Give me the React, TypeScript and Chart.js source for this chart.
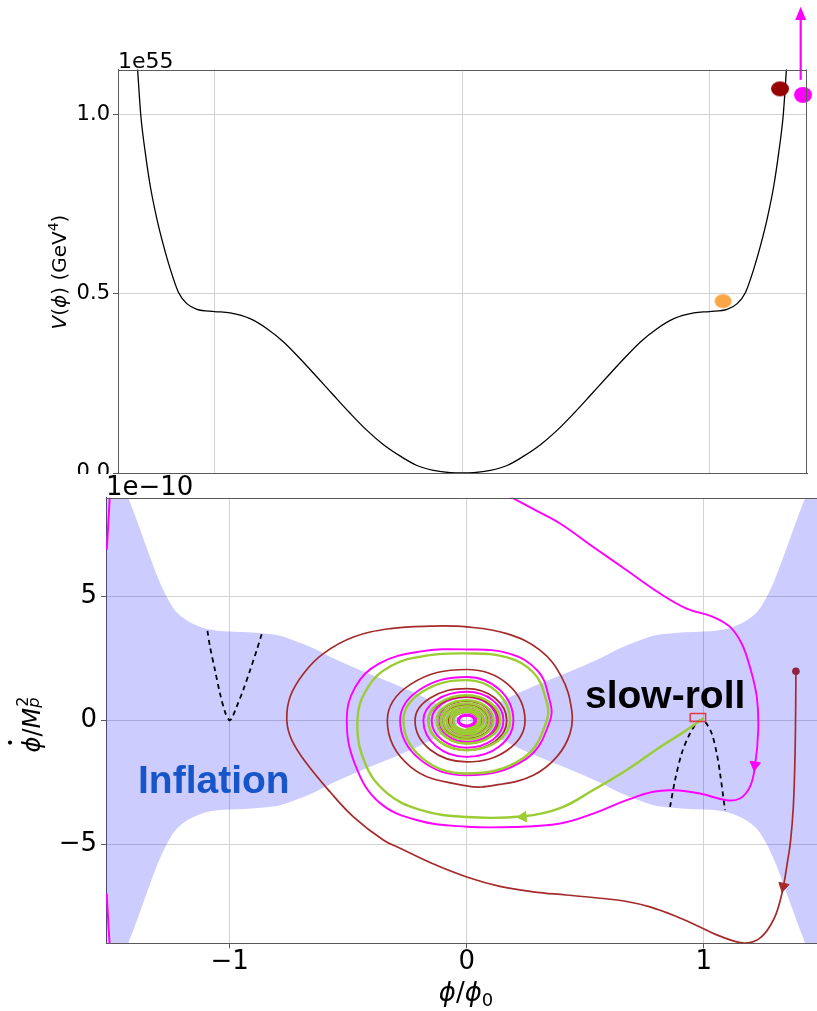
import React, { useEffect, useRef } from "react";
import { Chart, registerables } from "chart.js";

Chart.register(...registerables);

const FONT = "'DejaVu Sans', sans-serif";
const BOLD = "'Liberation Sans', Arial, sans-serif";
const GRID = "#d2d2d2";
const SPINE = "#5a5a5a";

// ---------------- Top panel: potential V(phi) in units of 1e55 GeV^4 ----------------
const topXGrid = [-1, 0, 1];
const topYTicks = [0, 0.5, 1.0];
const potPhi = [-1.325, -1.311, -1.298, -1.28, -1.26, -1.233, -1.206, -1.179, -1.146, -1.112, -1.071, -1.0, -0.937, -0.856, -0.788, -0.721, -0.654, -0.586, -0.519, -0.451, -0.384, -0.317, -0.249, -0.182, -0.115, -0.047, 0, 0.047, 0.115, 0.182, 0.249, 0.317, 0.384, 0.451, 0.519, 0.586, 0.654, 0.721, 0.788, 0.856, 0.937, 1.0, 1.071, 1.112, 1.146, 1.179, 1.206, 1.233, 1.26, 1.28, 1.298, 1.311, 1.325];
const potV = [1.26, 1.128, 1.0, 0.896, 0.803, 0.71, 0.635, 0.57, 0.505, 0.473, 0.457, 0.451, 0.447, 0.431, 0.403, 0.366, 0.319, 0.268, 0.217, 0.166, 0.119, 0.079, 0.047, 0.021, 0.0074, 0.001, 0, 0.001, 0.0074, 0.021, 0.047, 0.079, 0.119, 0.166, 0.217, 0.268, 0.319, 0.366, 0.403, 0.431, 0.447, 0.451, 0.457, 0.473, 0.505, 0.57, 0.635, 0.71, 0.803, 0.896, 1.0, 1.128, 1.26];
const darkRedPt = [1.285, 1.073];
const magentaPt = [1.378, 1.056];
const orangePt = [1.055, 0.48];
const kickPhi = 1.3685;
const kickV = [1.098, 1.265];
const kickTip = 1.3025;

// ---------------- Bottom panel: phase space (phi/phi0, phidot/Mp^2 in 1e-10) ----------------
const botXTicks = [-1, 0, 1];
const botYTicks = [-5, 0, 5];
const bandPhi = [-1.56, -1.47, -1.428, -1.4, -1.37, -1.336, -1.3, -1.266, -1.231, -1.19, -1.153, -1.104, -1.05, -1.0, -0.92, -0.844, -0.788, -0.72, -0.647, -0.55, -0.436, -0.3, -0.183, -0.09, 0, 0.09, 0.183, 0.3, 0.436, 0.55, 0.647, 0.72, 0.788, 0.844, 0.92, 1.0, 1.05, 1.104, 1.153, 1.19, 1.231, 1.266, 1.3, 1.336, 1.37, 1.4, 1.428, 1.47, 1.56];
const bandUpper = [14.0, 10.3, 9.0, 8.3, 7.5, 6.6, 5.7, 5.0, 4.45, 4.1, 3.9, 3.72, 3.63, 3.6, 3.56, 3.5, 3.42, 3.2, 2.92, 2.45, 1.98, 1.45, 0.95, 0.47, 0, 0.47, 0.95, 1.45, 1.98, 2.45, 2.92, 3.2, 3.42, 3.5, 3.56, 3.6, 3.63, 3.72, 3.9, 4.1, 4.45, 5.0, 5.7, 6.6, 7.5, 8.3, 9.0, 10.3, 14.0];
const bandLower = [-14.0, -10.3, -9.0, -8.3, -7.5, -6.6, -5.7, -5.0, -4.45, -4.1, -3.9, -3.72, -3.63, -3.6, -3.56, -3.5, -3.42, -3.2, -2.92, -2.45, -1.98, -1.45, -0.95, -0.47, 0, -0.47, -0.95, -1.45, -1.98, -2.45, -2.92, -3.2, -3.42, -3.5, -3.56, -3.6, -3.63, -3.72, -3.9, -4.1, -4.45, -5.0, -5.7, -6.6, -7.5, -8.3, -9.0, -10.3, -14.0];

const dashLeftPhi = [-1.094, -1.083, -1.062, -1.041, -1.02, -1.002, -0.992, -0.971, -0.943, -0.914, -0.886, -0.865];
const dashLeftV = [3.62, 2.97, 2.03, 1.09, 0.35, 0.01, 0.08, 0.55, 1.23, 2.03, 2.84, 3.49];
const dashRightPhi = [0.858, 0.879, 0.907, 0.935, 0.963, 0.984, 1.006, 1.034, 1.055, 1.069, 1.09];
const dashRightV = [-3.49, -2.41, -1.33, -0.66, -0.19, 0.01, -0.06, -0.53, -1.33, -2.14, -3.62];

const boxPhi = [0.943, 1.008, 1.008, 0.943, 0.943];
const boxV = [0.28, 0.28, -0.04, -0.04, 0.28];

const brownStart = [1.389, 1.99];
const brownPhi = [1.389, 1.388, 1.385, 1.378, 1.366, 1.352, 1.336, 1.322, 1.305, 1.283, 1.258, 1.23, 1.2, 1.17, 1.124, 1.05, 0.984, 0.88, 0.773, 0.67, 0.562, 0.42, 0.28, 0.14, 0.0, -0.14, -0.281, -0.352, -0.478, -0.577, -0.675, -0.738, -0.759, -0.745, -0.689, -0.605, -0.478, -0.323, -0.155, 0.0, 0.169, 0.309, 0.4, 0.443, 0.436, 0.38, 0.281, 0.141, 0.0, -0.237, -0.335, -0.237, 0.0, 0.174, 0.246, 0.174, 0.0, -0.154, -0.218, -0.154, 0.0, 0.119, 0.169, 0.119, 0.0, -0.115, -0.162, -0.115, 0.0, 0.095, 0.134, 0.095, 0.0, -0.088, -0.125, -0.088, 0.0, 0.078, 0.11, 0.078, 0.0, -0.071, -0.1, -0.071, 0.0, 0.062, 0.088, 0.062, 0.0, -0.055, -0.078, -0.055, 0.0, 0.047, 0.066, 0.047, 0.0, -0.041, -0.058, -0.041, 0.0, 0.035, 0.05, 0.035, 0.0];
const brownV = [1.99, 0.5, -1.5, -3.5, -4.9, -5.8, -6.72, -7.3, -7.82, -8.25, -8.6, -8.84, -8.96, -8.99, -8.9, -8.64, -8.34, -7.9, -7.53, -7.3, -7.18, -7.05, -6.92, -6.7, -6.32, -5.8, -5.16, -4.83, -3.89, -2.88, -1.74, -0.79, 0.0, 0.96, 1.89, 2.7, 3.37, 3.71, 3.81, 3.78, 3.51, 2.84, 1.76, 0.42, -0.52, -1.47, -2.21, -2.58, -2.64, -1.87, 0.0, 1.46, 2.06, 1.46, 0.0, -1.18, -1.67, -1.18, 0.0, 0.91, 1.29, 0.91, 0.0, -0.85, -1.2, -0.85, 0.0, 0.68, 0.96, 0.68, 0.0, -0.66, -0.93, -0.66, 0.0, 0.55, 0.78, 0.55, 0.0, -0.51, -0.72, -0.51, 0.0, 0.44, 0.62, 0.44, 0.0, -0.4, -0.57, -0.4, 0.0, 0.34, 0.48, 0.34, 0.0, -0.3, -0.43, -0.3, 0.0, 0.25, 0.36, 0.25, 0.0, -0.23, -0.32];

const greenPhi = [1.0, 0.955, 0.91, 0.816, 0.675, 0.534, 0.394, 0.239, 0.0, -0.2, -0.34, -0.43, -0.461, -0.42, -0.32, -0.17, 0.0, 0.17, 0.28, 0.33, 0.338, 0.239, 0.0, -0.189, -0.267, -0.189, 0.0, 0.129, 0.183, 0.129, 0.0, -0.115, -0.162, -0.115, 0.0, 0.1, 0.141, 0.1, 0.0, -0.09, -0.127, -0.09, 0.0, 0.08, 0.113, 0.08, 0.0, -0.078, -0.11, -0.078, 0.0, 0.068, 0.096, 0.068, 0.0, -0.069, -0.098, -0.069, 0.0, 0.059, 0.084, 0.059, 0.0, -0.059, -0.084, -0.059, 0.0, 0.049, 0.07, 0.049, 0.0, -0.049, -0.07, -0.049, 0.0, 0.04, 0.056, 0.04, 0.0, -0.04, -0.056, -0.04, 0.0, 0.035, 0.049, 0.035, 0.0];
const greenV = [0.1, -0.2, -0.5, -1.07, -2.0, -2.81, -3.54, -3.87, -3.9, -3.6, -2.9, -1.7, 0.0, 1.3, 2.2, 2.62, 2.71, 2.55, 1.95, 1.0, 0.0, -1.51, -2.14, -1.51, 0.0, 1.15, 1.63, 1.15, 0.0, -0.85, -1.2, -0.85, 0.0, 0.72, 1.02, 0.72, 0.0, -0.66, -0.93, -0.66, 0.0, 0.58, 0.82, 0.58, 0.0, -0.54, -0.77, -0.54, 0.0, 0.49, 0.69, 0.49, 0.0, -0.47, -0.66, -0.47, 0.0, 0.41, 0.58, 0.41, 0.0, -0.39, -0.55, -0.39, 0.0, 0.34, 0.48, 0.34, 0.0, -0.33, -0.46, -0.33, 0.0, 0.3, 0.42, 0.3, 0.0, -0.28, -0.39, -0.28, 0.0, 0.25, 0.35, 0.25, 0.0, -0.23, -0.32];

const magentaPhi = [0.1, 0.191, 0.29, 0.394, 0.534, 0.675, 0.816, 0.928, 1.041, 1.111, 1.16, 1.195, 1.224, 1.23, 1.216, 1.195, 1.153, 1.097, 0.984, 0.872, 0.787, 0.675, 0.534, 0.394, 0.2, 0.0, -0.2, -0.37, -0.47, -0.506, -0.47, -0.37, -0.2, 0.0, 0.18, 0.3, 0.345, 0.352, 0.249, 0.0, -0.199, -0.281, -0.199, 0.0, 0.139, 0.197, 0.139, 0.0, -0.129, -0.183, -0.129, 0.0, 0.11, 0.155, 0.11, 0.0, -0.105, -0.148, -0.105, 0.0, 0.09, 0.127, 0.09, 0.0, -0.081, -0.115, -0.081, 0.0, 0.071, 0.1, 0.071, 0.0, -0.06, -0.085, -0.06, 0.0, 0.051, 0.072, 0.051, 0.0, -0.041, -0.058, -0.041, 0.0, 0.032, 0.045, 0.032, 0.0, -0.026, -0.037, -0.026, 0.0];
const magentaV = [9.45, 9.0, 8.5, 7.96, 7.01, 6.07, 5.13, 4.52, 4.18, 3.78, 3.11, 2.16, 0.95, -0.39, -1.87, -2.68, -3.15, -3.22, -2.95, -2.82, -2.88, -3.22, -3.76, -4.16, -4.3, -4.29, -4.05, -3.3, -1.8, 0.0, 1.35, 2.3, 2.78, 2.87, 2.7, 2.0, 1.0, 0.0, -1.56, -2.21, -1.56, 0.0, 1.24, 1.76, 1.24, 0.0, -1.04, -1.47, -1.04, 0.0, 0.82, 1.16, 0.82, 0.0, -0.78, -1.1, -0.78, 0.0, 0.67, 0.95, 0.67, 0.0, -0.61, -0.86, -0.61, 0.0, 0.48, 0.68, 0.48, 0.0, -0.42, -0.6, -0.42, 0.0, 0.35, 0.5, 0.35, 0.0, -0.28, -0.4, -0.28, 0.0, 0.23, 0.33, 0.23, 0.0, -0.18, -0.26, -0.18, 0.0, 0.16, 0.22];
const magCorePhi = [0.0, 0.025, 0.035, 0.025, 0.0, -0.025, -0.035, -0.025, 0.0];
const magCoreV = [0.22, 0.155, 0.0, -0.155, -0.22, -0.155, 0.0, 0.155, 0.22];
const magEdgePhi = [-1.503, -1.512, -1.519, -1.52, -1.519, -1.512, -1.503];
const magEdgeV = [9.6, 8.0, 6.9, null, -6.99, -8.2, -9.6];

const arrowPhi = [0.238, 1.216, 1.336];
const arrowV = [-3.89, -1.8, -6.7];
const arrowRot = [265, 188, 192];
const arrowColors = ["#9acd32", "#ff00ff", "#a52a2a"];

function pts(xs: number[], ys: (number | null)[]) {
  return xs.map((x, i) => ({ x, y: ys[i] }));
}

function ellipseImage(color: string, w: number, h: number) {
  const c = document.createElement("canvas");
  c.width = w + 2;
  c.height = h + 2;
  const g = c.getContext("2d")!;
  g.fillStyle = color;
  g.beginPath();
  g.ellipse((w + 2) / 2, (h + 2) / 2, w / 2, h / 2, 0, 0, Math.PI * 2);
  g.fill();
  return c;
}

const minusFmt = (v: any) => {
  const n = Number(v);
  return n < 0 ? "\u2212" + Math.abs(n) : String(n);
};

export default function App() {
  const topRef = useRef<HTMLCanvasElement>(null);
  const botRef = useRef<HTMLCanvasElement>(null);

  useEffect(() => {
    const charts: Chart[] = [];

    // ---------- TOP ----------
    const topPlugin = {
      id: "topDecor",
      afterDatasetsDraw(chart: any) {
        const ctx = chart.ctx;
        const xs = chart.scales.x;
        const ys = chart.scales.y;
        const px = xs.getPixelForValue(kickPhi);
        const tip = ys.getPixelForValue(kickTip);
        const base = ys.getPixelForValue(kickV[1]);
        ctx.save();
        ctx.fillStyle = "#ff00ff";
        ctx.beginPath();
        ctx.moveTo(px, tip);
        ctx.lineTo(px - 5.5, base);
        ctx.lineTo(px + 5.5, base);
        ctx.closePath();
        ctx.fill();
        ctx.restore();
      },
      afterDraw(chart: any) {
        const ctx = chart.ctx;
        const a = chart.chartArea;
        ctx.save();
        ctx.strokeStyle = SPINE;
        ctx.lineWidth = 1;
        ctx.beginPath();
        ctx.moveTo(a.left, Math.round(a.top) + 0.5);
        ctx.lineTo(a.right, Math.round(a.top) + 0.5);
        ctx.moveTo(Math.round(a.right) - 0.5, a.top);
        ctx.lineTo(Math.round(a.right) - 0.5, a.bottom);
        ctx.stroke();
        ctx.fillStyle = "#000";
        ctx.font = `22px ${FONT}`;
        ctx.textAlign = "left";
        ctx.textBaseline = "alphabetic";
        ctx.fillText("1e55", 118, 68);
        ctx.translate(0, 272);
        ctx.rotate(-Math.PI / 2);
        const runs: [string, string, number][] = [
          ["V", `italic 20px ${FONT}`, 0],
          ["(", `20px ${FONT}`, 0],
          ["\u03D5", `italic 20px ${FONT}`, 0],
          [") (GeV", `20px ${FONT}`, 0],
          ["4", `14px ${FONT}`, -8],
          [")", `20px ${FONT}`, 0],
        ];
        let total = 0;
        for (const r of runs) {
          ctx.font = r[1];
          total += ctx.measureText(r[0]).width;
        }
        let x = -total / 2;
        for (const r of runs) {
          ctx.font = r[1];
          ctx.fillText(r[0], x, 66 + r[2]);
          x += ctx.measureText(r[0]).width;
        }
        ctx.restore();
      },
    };

    const top = new Chart(topRef.current!, {
      type: "line",
      data: {
        datasets: [
          {
            data: pts([darkRedPt[0]], [darkRedPt[1]]),
            showLine: false,
            pointStyle: ellipseImage("#960000", 18, 15),
            pointRadius: 9,
            clip: false,
          } as any,
          {
            data: pts([magentaPt[0]], [magentaPt[1]]),
            showLine: false,
            pointStyle: ellipseImage("#ff00ff", 18, 16),
            pointRadius: 9,
            clip: false,
          },
          {
            data: pts([orangePt[0]], [orangePt[1]]),
            showLine: false,
            pointStyle: ellipseImage("#fba646", 17, 14),
            pointRadius: 9,
            clip: false,
          },
          {
            data: pts([kickPhi, kickPhi], [kickV[0], kickV[1]]),
            borderColor: "#ff00ff",
            borderWidth: 2.2,
            pointRadius: 0,
            clip: false,
          },
          {
            data: pts(potPhi, potV),
            borderColor: "#000",
            borderWidth: 1.3,
            pointRadius: 0,
            cubicInterpolationMode: "monotone",
          },
        ],
      },
      options: {
        responsive: false,
        animation: false,
        events: [],
        layout: { autoPadding: false, padding: { left: 0, right: 10, top: 69.5, bottom: 0 } },
        plugins: { legend: { display: false }, tooltip: { enabled: false } },
        scales: {
          x: {
            type: "linear",
            min: -1.39,
            max: 1.394,
            afterBuildTicks: (s: any) => {
              s.ticks = topXGrid.map((v) => ({ value: v }));
            },
            afterFit: (s: any) => {
              s.height = 27;
            },
            ticks: { display: false },
            grid: { color: GRID, drawTicks: false },
            border: { color: SPINE },
          },
          y: {
            type: "linear",
            min: 0,
            max: 1.127,
            afterBuildTicks: (s: any) => {
              s.ticks = topYTicks.map((v) => ({ value: v }));
            },
            afterFit: (s: any) => {
              s.width = 118;
            },
            ticks: {
              color: "#000",
              font: { family: FONT, size: 21 },
              padding: 3,
              callback: (v: any) => Number(v).toFixed(1),
            },
            grid: { color: GRID, tickColor: SPINE, tickLength: 5 },
            border: { color: SPINE },
          },
        },
      } as any,
      plugins: [topPlugin],
    });
    charts.push(top);

    // ---------- BOTTOM ----------
    const botPlugin = {
      id: "botDecor",
      afterDraw(chart: any) {
        const ctx = chart.ctx;
        const a = chart.chartArea;
        ctx.save();
        ctx.strokeStyle = SPINE;
        ctx.lineWidth = 1;
        ctx.beginPath();
        ctx.moveTo(a.left, Math.round(a.top) + 0.5);
        ctx.lineTo(a.right, Math.round(a.top) + 0.5);
        ctx.stroke();

        ctx.textAlign = "left";
        ctx.textBaseline = "alphabetic";
        ctx.fillStyle = "#000";
        ctx.font = `26px ${FONT}`;
        ctx.fillText("1e\u221210", 106, 21);

        ctx.font = `bold 39px ${BOLD}`;
        ctx.fillStyle = "#1755c8";
        ctx.fillText("Inflation", 138, 319);
        ctx.fillStyle = "#000";
        ctx.fillText("slow-roll", 585, 234);

        const xr: [string, string, number][] = [
          ["\u03D5", `italic 26px ${FONT}`, 0],
          ["/", `26px ${FONT}`, 0],
          ["\u03D5", `italic 26px ${FONT}`, 0],
          ["0", `18px ${FONT}`, 5],
        ];
        let tw = 0;
        for (const r of xr) {
          ctx.font = r[1];
          tw += ctx.measureText(r[0]).width;
        }
        let x = 466 - tw / 2;
        for (const r of xr) {
          ctx.font = r[1];
          ctx.fillText(r[0], x, 527 + r[2]);
          x += ctx.measureText(r[0]).width;
        }

        ctx.translate(0, 251);
        ctx.rotate(-Math.PI / 2);
        const base = 40;
        ctx.font = `italic 24px ${FONT}`;
        const wPhi = ctx.measureText("\u03D5").width;
        ctx.font = `24px ${FONT}`;
        const wSl = ctx.measureText("/").width;
        ctx.font = `italic 24px ${FONT}`;
        const wM = ctx.measureText("M").width;
        ctx.font = `16px ${FONT}`;
        const w2 = ctx.measureText("2").width;
        ctx.font = `italic 16px ${FONT}`;
        const wp = ctx.measureText("p").width;
        const tot = wPhi + wSl + wM + Math.max(w2, wp);
        let lx = -tot / 2;
        ctx.font = `italic 24px ${FONT}`;
        ctx.fillText("\u03D5", lx, base);
        ctx.beginPath();
        ctx.arc(lx + wPhi * 0.62, 10, 2.1, 0, Math.PI * 2);
        ctx.fill();
        lx += wPhi;
        ctx.font = `24px ${FONT}`;
        ctx.fillText("/", lx, base);
        lx += wSl;
        ctx.font = `italic 24px ${FONT}`;
        ctx.fillText("M", lx, base);
        lx += wM;
        ctx.font = `16px ${FONT}`;
        ctx.fillText("2", lx + 1, base - 12);
        ctx.font = `italic 16px ${FONT}`;
        ctx.fillText("p", lx, base - 1);
        ctx.restore();
      },
    };

    const line = (xs: number[], ys: (number | null)[], color: string, width: number, extra: any = {}) => ({
      data: pts(xs, ys),
      borderColor: color,
      backgroundColor: color,
      borderWidth: width,
      pointRadius: 0,
      tension: 0.4,
      fill: false,
      ...extra,
    });

    const bot = new Chart(botRef.current!, {
      type: "line",
      data: {
        datasets: [
          {
            data: pts(arrowPhi, arrowV),
            showLine: false,
            pointStyle: "triangle",
            pointRadius: 6,
            pointRotation: arrowRot,
            pointBackgroundColor: arrowColors,
            pointBorderColor: arrowColors,
            pointBorderWidth: 1,
          } as any,
          {
            data: pts([brownStart[0]], [brownStart[1]]),
            showLine: false,
            pointRadius: 3.8,
            pointBackgroundColor: "#8e2440",
            pointBorderColor: "#8e2440",
            pointBorderWidth: 0,
          },
          line(boxPhi, boxV, "#e8383a", 1.5, { tension: 0 }),
          line(magCorePhi, magCoreV, "#ff00ff", 3, { tension: 0.5 }),
          line(greenPhi, greenV, "#9acd32", 2.4),
          line(brownPhi, brownV, "#a52a2a", 1.7),
          line(magentaPhi, magentaV, "#ff00ff", 1.9),
          line(magEdgePhi, magEdgeV, "#ff00ff", 2, { tension: 0.2 }),
          line(dashLeftPhi, dashLeftV, "#000", 1.8, { borderDash: [5, 4], tension: 0.3 }),
          line(dashRightPhi, dashRightV, "#000", 1.8, { borderDash: [5, 4], tension: 0.3 }),
          {
            data: pts(bandPhi, bandUpper),
            borderWidth: 0,
            borderColor: "rgba(0,0,0,0)",
            backgroundColor: "rgba(0,0,255,0.2)",
            pointRadius: 0,
            cubicInterpolationMode: "monotone",
            fill: "+1",
          },
          {
            data: pts(bandPhi, bandLower),
            borderWidth: 0,
            borderColor: "rgba(0,0,0,0)",
            pointRadius: 0,
            cubicInterpolationMode: "monotone",
            fill: false,
          },
        ],
      },
      options: {
        responsive: false,
        animation: false,
        events: [],
        layout: { autoPadding: false, padding: { left: 0, right: 0, top: 23.7, bottom: 0 } },
        plugins: { legend: { display: false }, tooltip: { enabled: false } },
        scales: {
          x: {
            type: "linear",
            min: -1.522,
            max: 1.478,
            afterBuildTicks: (s: any) => {
              s.ticks = botXTicks.map((v) => ({ value: v }));
            },
            afterFit: (s: any) => {
              s.height = 67.7;
            },
            ticks: {
              color: "#000",
              font: { family: FONT, size: 26 },
              padding: -2,
              maxRotation: 0,
              callback: minusFmt,
            },
            grid: { color: GRID, tickColor: SPINE, tickLength: 5 },
            border: { color: SPINE },
          },
          y: {
            type: "linear",
            min: -9,
            max: 9,
            afterBuildTicks: (s: any) => {
              s.ticks = botYTicks.map((v) => ({ value: v }));
            },
            afterFit: (s: any) => {
              s.width = 106;
            },
            ticks: {
              color: "#000",
              font: { family: FONT, size: 26 },
              padding: 4,
              callback: minusFmt,
            },
            grid: { color: GRID, tickColor: SPINE, tickLength: 5 },
            border: { color: SPINE },
          },
        },
      } as any,
      plugins: [botPlugin],
    });
    charts.push(bot);

    return () => charts.forEach((c) => c.destroy());
  }, []);

  return (
    <div
      style={{
        position: "absolute",
        left: 0,
        top: 0,
        width: 817,
        height: 1011,
        overflow: "hidden",
        background: "#fff",
      }}
    >
      <canvas ref={topRef} width={817} height={500} style={{ position: "absolute", left: 0, top: 0 }} />
      <canvas
        ref={botRef}
        width={817}
        height={537}
        style={{ position: "absolute", left: 0, top: 474, background: "#fff" }}
      />
    </div>
  );
}
